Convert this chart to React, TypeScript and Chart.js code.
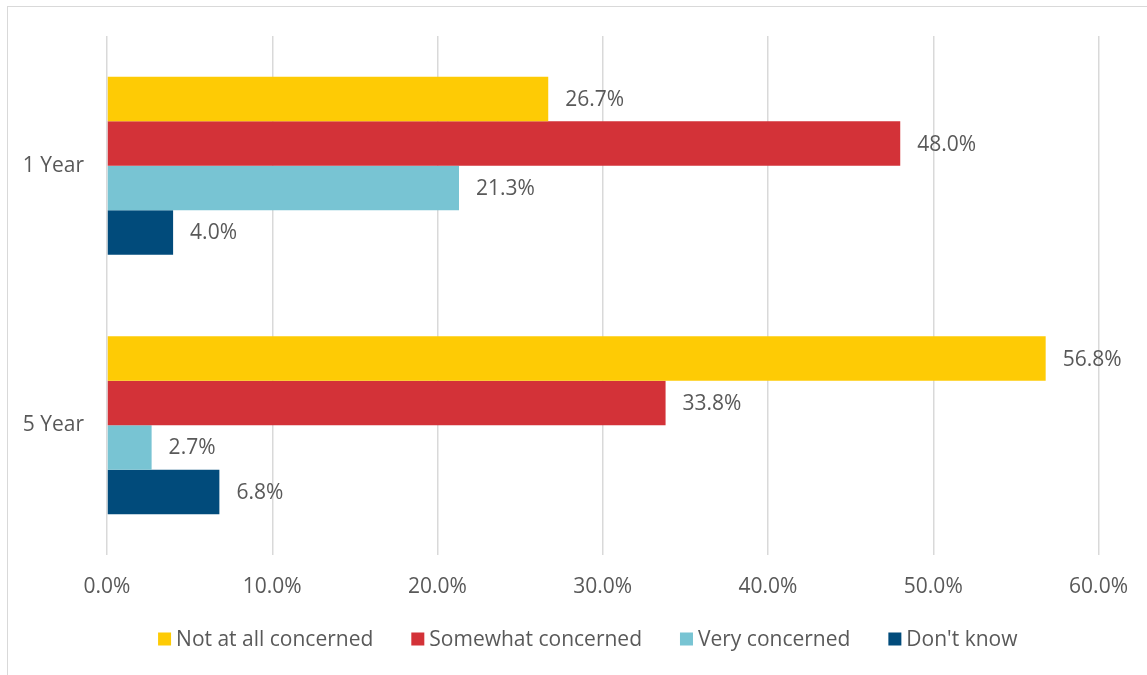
import React, { useEffect, useRef } from "react";
import { Chart, registerables } from "chart.js";

Chart.register(...registerables);

const categories = ["1 Year", "5 Year"];
const seriesNames = ["Not at all concerned", "Somewhat concerned", "Very concerned", "Don't know"];
const notAtAll = [26.7, 56.8];
const somewhat = [48.0, 33.8];
const very = [21.3, 2.7];
const dontKnow = [4.0, 6.8];
const colors = ["#FECB05", "#D33238", "#78C4D3", "#014B7B"];
const xTicks = { min: 0, max: 60, step: 10 };

const FONT = "'Open Sans', sans-serif";
const TEXT = "#595959";
const SIZE = 21;

const labelPlugin = {
  id: "barLabels",
  afterDatasetsDraw(chart: any) {
    const ctx = chart.ctx;
    ctx.save();
    ctx.font = `${SIZE}px ${FONT}`;
    ctx.fillStyle = TEXT;
    ctx.textAlign = "left";
    ctx.textBaseline = "middle";
    chart.data.datasets.forEach((ds: any, i: number) => {
      const meta = chart.getDatasetMeta(i);
      meta.data.forEach((bar: any, j: number) => {
        const v = ds.data[j];
        ctx.fillText(v.toFixed(1) + "%", bar.x + 17, bar.y + 1);
      });
    });
    ctx.restore();
  },
};

const legendPlugin = {
  id: "bottomLegend",
  afterDraw(chart: any) {
    const ctx = chart.ctx;
    const area = chart.chartArea;
    ctx.save();
    ctx.font = `${SIZE}px ${FONT}`;
    ctx.textBaseline = "middle";
    ctx.textAlign = "left";
    const box = 13;
    const textGap = 5;
    const itemGap = 38;
    const items = chart.data.datasets.map((ds: any) => ({
      text: ds.label,
      color: ds.backgroundColor,
      w: box + textGap + ctx.measureText(ds.label).width,
    }));
    const total = items.reduce((s: number, it: any) => s + it.w, 0) + itemGap * (items.length - 1);
    const center = (area.left + area.right) / 2 - 15;
    let x = center - total / 2;
    const y = area.bottom + 84;
    items.forEach((it: any) => {
      ctx.fillStyle = it.color;
      ctx.fillRect(x, y - box / 2, box, box);
      ctx.fillStyle = TEXT;
      ctx.fillText(it.text, x + box + textGap, y + 1);
      x += it.w + itemGap;
    });
    ctx.restore();
  },
};

export default function App() {
  const ref = useRef<HTMLCanvasElement>(null);
  useEffect(() => {
    document.body.style.margin = "0";
    const data = [notAtAll, somewhat, very, dontKnow];
    const chart = new Chart(ref.current!, {
      type: "bar",
      data: {
        labels: categories,
        datasets: seriesNames.map((name, i) => ({
          label: name,
          data: data[i],
          backgroundColor: colors[i],
          borderWidth: 0,
          categoryPercentage: 0.685,
          barPercentage: 1,
        })),
      },
      options: {
        indexAxis: "y",
        animation: false,
        responsive: false,
        maintainAspectRatio: false,
        layout: { padding: { top: 36, right: 48, left: 0, bottom: 0 } },
        scales: {
          x: {
            min: xTicks.min,
            max: xTicks.max,
            ticks: {
              stepSize: xTicks.step,
              color: TEXT,
              font: { family: FONT, size: SIZE },
              padding: 19,
              callback: (v: any) => Number(v).toFixed(1) + "%",
            },
            grid: { color: "#D9D9D9", lineWidth: 1.5, drawTicks: false },
            border: { display: false },
            afterFit: (s: any) => {
              s.height = 120;
            },
          },
          y: {
            ticks: {
              color: TEXT,
              font: { family: FONT, size: SIZE },
              padding: 23,
            },
            grid: { display: false, drawTicks: false },
            border: { display: false },
            afterFit: (s: any) => {
              s.width = 107;
            },
          },
        },
        plugins: {
          legend: { display: false },
          tooltip: { enabled: false },
        },
      },
      plugins: [labelPlugin, legendPlugin],
    });
    return () => chart.destroy();
  }, []);
  return (
    <div style={{ position: "relative", width: 1147, height: 675, overflow: "hidden", background: "#fff" }}>
      <canvas ref={ref} width={1147} height={675} style={{ display: "block" }} />
      <div
        style={{
          position: "absolute",
          left: 7,
          top: 6,
          width: 1200,
          height: 720,
          border: "1px solid #D9D9D9",
          pointerEvents: "none",
        }}
      />
    </div>
  );
}
